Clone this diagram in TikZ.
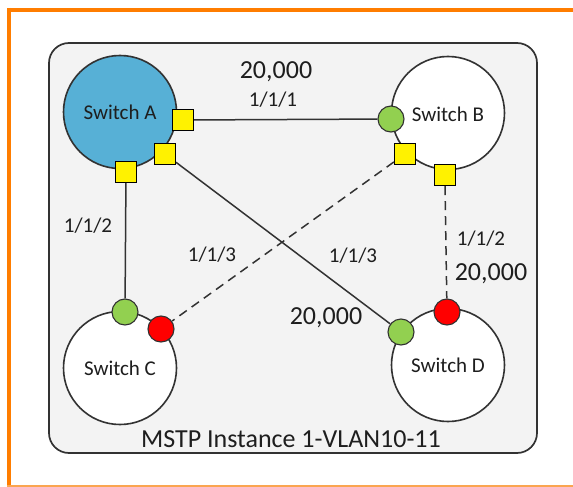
\documentclass[tikz,border=0pt]{standalone}
\usepackage{fontspec}
\setmainfont{Carlito}
\definecolor{frameorange}{RGB}{255,125,0}
\definecolor{frameline}{RGB}{250,165,80}
\definecolor{boxfill}{RGB}{243,243,243}
\definecolor{boxdraw}{RGB}{50,50,50}
\definecolor{swblue}{RGB}{87,176,214}
\definecolor{portgreen}{RGB}{146,208,80}
\definecolor{txt}{RGB}{30,30,30}
\tikzset{
  switchnode/.style={circle,draw=boxdraw,line width=1.6pt,minimum size=113pt,inner sep=0pt,fill=white,text=txt,font=\fontsize{21}{24}\selectfont},
  portsq/.style={rectangle,draw=black,line width=1.1pt,fill=yellow,minimum size=21pt,inner sep=0pt},
  portok/.style={circle,draw=boxdraw,line width=1.1pt,fill=portgreen,minimum size=26pt,inner sep=0pt},
  portblk/.style={circle,draw=boxdraw,line width=1.1pt,fill=red,minimum size=26pt,inner sep=0pt},
  lbl/.style={text=txt,inner sep=0pt,font=\fontsize{21}{24}\selectfont},
  biglbl/.style={text=txt,inner sep=0pt,font=\fontsize{26}{30}\selectfont},
  link/.style={draw=boxdraw,line width=1.5pt},
  blocked/.style={link,dash pattern=on 9pt off 6pt}
}
\begin{document}
\begin{tikzpicture}[x=1pt,y=-1pt]
        \useasboundingbox (0,0) rectangle (573,487);
        % frame
        \draw[frameorange,line width=4pt] (7,10) -- (573,10);
        \draw[frameorange,line width=4pt] (9,8) -- (9,487);
        \draw[frameline,line width=1.5pt] (7,486) -- (573,486);
        \draw[boxdraw,fill=boxfill,line width=1.7pt,rounded corners=20pt] (49,43) rectangle (537,453);

        % switches
        \node[switchnode,fill=swblue] (swA) at (120,112) {Switch A};
        \node[switchnode] (swB) at (448,113) {};
        \node[switchnode] (swC) at (120,368) {Switch C};
        \node[switchnode] (swD) at (448,365) {Switch D};
        \node[lbl] (swBlbl) at (448,114) {Switch B};

        % ports
        \node[portsq] (a1) at (183,120) {};
        \node[portsq] (a3) at (165,154) {};
        \node[portsq] (a2) at (126,172) {};
        \node[portsq] (b3) at (405,154) {};
        \node[portsq] (b2) at (445,175) {};
        \node[portok] (b1) at (391,119) {};
        \node[portok] (c2) at (125,312) {};
        \node[portblk] (c3) at (161,329) {};
        \node[portok] (d3) at (401,332) {};
        \node[portblk] (d2) at (447,312) {};

        % links
        \draw[link] (a1) -- (b1);
        \draw[link] (a2) -- (c2);
        \draw[link] (a3) -- (d3);
        \draw[blocked] (b3) -- (c3);
        \draw[blocked] (b2.south) -- (d2);

        % labels
        \node[biglbl] (costAB) at (276,72) {20,000};
        \node[lbl] (pAB) at (273,100) {1/1/1};
        \node[lbl] (pAC) at (88,226) {1/1/2};
        \node[lbl] (pBC) at (212,255) {1/1/3};
        \node[lbl] (pAD) at (353,256) {1/1/3};
        \node[lbl] (pBD) at (481,239) {1/1/2};
        \node[biglbl] (costBD) at (491,274) {20,000};
        \node[biglbl] (costAD) at (326,318) {20,000};
        \node[biglbl] (inst) at (291,439) {MSTP Instance 1-VLAN10-11};
      \end{tikzpicture}
\end{document}
